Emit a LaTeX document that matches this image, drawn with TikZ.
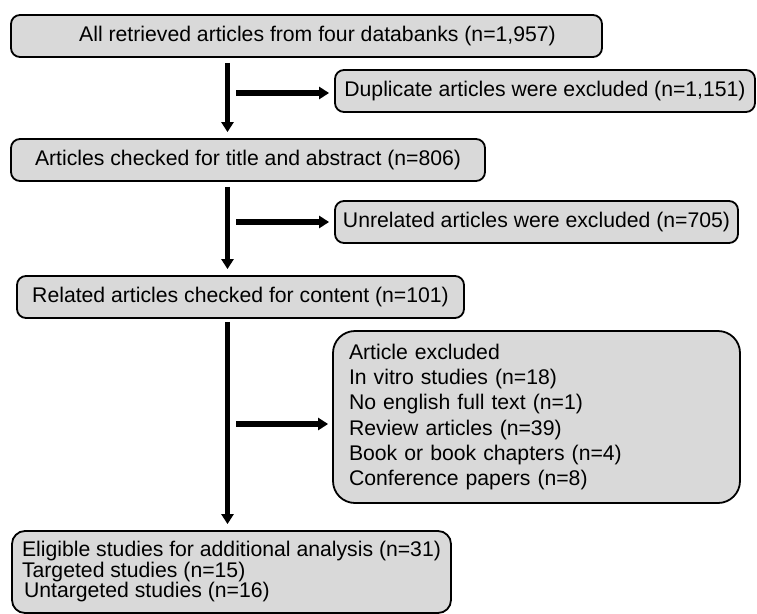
\documentclass[tikz,border=0pt]{standalone}
\usepackage{fontspec}
\setmainfont{Liberation Sans}
\usepackage{tikz}
\usetikzlibrary{arrows.meta,positioning}
\definecolor{boxgray}{RGB}{217,217,217}

\begin{document}
\begin{tikzpicture}[x=1pt,y=-1pt,
	box/.style={draw=black, line width=1.8pt, fill=boxgray, rounded corners=9pt,
		minimum height=42pt, inner sep=0pt, font=\fontsize{21.2}{25.3}\selectfont},
	flow/.style={line width=5.5pt, -{Triangle[length=10pt,width=12pt]}},
	]
	\useasboundingbox (0,0) rectangle (757,613);
	
	% main column
	\node[box, minimum width=591pt] (all) at (306.5,36) {\hspace*{22pt}All retrieved articles from four databanks (n=1,957)};
	\node[box, minimum width=474pt] (title) at (248,160) {Articles checked for title and abstract (n=806)};
	\node[box, minimum width=447pt] (content) at (240.5,297) {Related articles checked for content (n=101)};
	\node[box, rounded corners=13pt, minimum width=439pt, minimum height=82pt, inner xsep=10pt, align=left,
		font=\fontsize{21.2}{20.5}\selectfont] (elig) at (231.5,572) {Eligible studies for additional analysis (n=31)\\
		Targeted studies (n=15)\\
		\hspace*{2pt}Untargeted studies (n=16)};
	
	% excluded
	\node[box, minimum width=420pt] (dup) at (545,91) {Duplicate articles were excluded (n=1,151)};
	\node[box, minimum width=403pt] (unrel) at (536.5,222) {Unrelated articles were excluded (n=705)};
	\node[box, rounded corners=22pt, minimum height=172pt, text width=375pt, inner xsep=16pt, align=left] (excl) at (536.5,417) {Article excluded\\
		In vitro studies (n=18)\\
		No english full text (n=1)\\
		Review articles (n=39)\\
		Book or book chapters (n=4)\\
		Conference papers (n=8)};
	
	\coordinate (spine) at (227.5,0);
	\draw[flow, shorten <=5pt, shorten >=6pt] (spine |- all.south) -- (spine |- title.north);
	\draw[flow, shorten <=5pt, shorten >=6pt] (spine |- title.south) -- (spine |- content.north);
	\draw[flow, shorten <=3pt, shorten >=6pt] (spine |- content.south) -- (spine |- elig.north);
	
	\coordinate (dupfrom) at (236,93);
	\coordinate (unrelfrom) at (236,222);
	\coordinate (exclfrom) at (236,424);
	\draw[flow, shorten >=5pt] (dupfrom) -- (dupfrom -| dup.west);
	\draw[flow, shorten >=5pt] (unrelfrom) -- (unrelfrom -| unrel.west);
	\draw[flow, shorten >=4pt] (exclfrom) -- (exclfrom -| excl.west);
\end{tikzpicture}
\end{document}
